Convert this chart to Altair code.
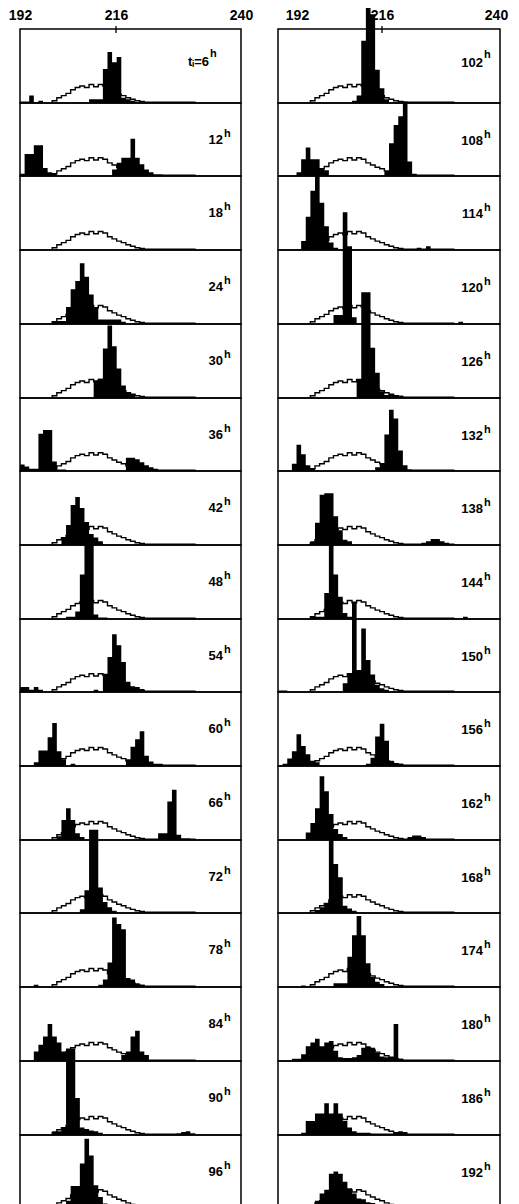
import altair as alt
import pandas as pd

FONT = "Liberation Sans"

LEFT_HOURS = [6, 12, 18, 24, 30, 36, 42, 48, 54, 60, 66, 72, 78, 84, 90, 96]
RIGHT_HOURS = [102, 108, 114, 120, 126, 132, 138, 144, 150, 156, 162, 168, 174, 180, 186, 192]

AXIS_VALUES = [192, 216, 240]

# reference (open) histogram, bins of width 1 starting at 199
OUTLINE_START = 199
OUTLINE = [3, 7, 10, 13, 18, 21, 23, 21, 25, 22, 25, 23, 18, 15, 12, 10, 7, 5, 3, 2,
           1, 1, 1, 1, 1, 1, 1, 1, 1, 1, 1]

# filled histograms: (first bin, heights) runs, height in % of panel height
H6 = [(192, [2, 2, 10, 1, 3]), (207, [5, 5, 5, 46, 69, 55, 62, 7, 5, 3, 1])]
H12 = [(192, [3, 30, 30, 42, 42, 11, 5, 3]), (212, [9, 18, 25, 25, 51, 25, 16, 9, 5, 2, 2, 1])]
H18 = []
H24 = [(199, [4, 4, 4, 23, 47, 58, 82, 64, 40, 22, 6, 6, 6, 6, 6, 3])]
H30 = [(208, [24, 26, 67, 98, 70, 40, 17, 8, 4])]
H36 = [(192, [9, 6, 3, 3, 51, 56, 56, 13, 2, 2]), (215, [18, 18, 16, 12, 8, 5, 3])]
H42 = [(201, [10, 27, 54, 65, 50, 31, 15, 10, 5])]
H48 = [(202, [3, 3, 10, 60, 100, 100, 6, 2, 2])]
H54 = [(192, [7, 7, 3, 7, 3]), (208, [3, 0, 25, 48, 79, 64, 41, 14, 8, 7, 4])]
H60 = [(195, [5, 21, 21, 39, 58, 20, 9, 0, 3]), (215, [9, 26, 36, 47, 14, 6, 3, 3])]
H66 = [(200, [5, 27, 43, 27, 9, 4]), (222, [9, 9, 52, 68, 7, 2, 2])]
H72 = [(205, [5, 31, 114, 114, 35, 15, 8, 3])]
H78 = [(195, [3]), (209, [3, 10, 33, 94, 85, 78, 12, 10, 5, 3])]
H84 = [(195, [13, 22, 33, 50, 33, 25, 13]), (214, [8, 13, 33, 41, 13, 8])]
H90 = [(199, [5, 5, 10, 117, 117, 50, 10, 8, 6, 5, 3]), (226, [2, 4, 5, 2])]
H96 = [(202, [10, 30, 30, 61, 95, 72, 31, 15, 6])]

H102 = [(208, [3, 10, 84, 130, 120, 45, 20, 5])]
H108 = [(196, [5, 23, 39, 23, 23, 11, 8]), (215, [7, 45, 70, 82, 102, 20, 3])]
H114 = [(197, [12, 45, 80, 100, 64, 32, 10, 3]), (222, [3, 0, 5])]
H120 = [(204, [12, 12, 151, 105, 9]), (231, [3])]
H126 = [(209, [25, 143, 143, 68, 34, 9, 4, 4, 4, 3])]
H132 = [(195, [10, 36, 23, 8, 3]), (213, [5, 10, 50, 84, 72, 28, 8, 2])]
H138 = [(199, [5, 30, 68, 70, 70, 39, 20, 7, 5]), (223, [3, 5, 8, 8, 5, 3])]
H144 = [(199, [3, 3, 3, 35, 100, 60, 30, 8, 3]), (232, [3])]
H150 = [(192, [2, 2]), (206, [12, 26, 124, 30, 87, 44, 24, 10, 5, 3])]
H156 = [(193, [3, 10, 20, 43, 27, 16, 7, 5]), (211, [3, 11, 40, 57, 34, 7, 4, 3])]
H162 = [(198, [10, 23, 43, 86, 66, 35, 15, 8, 4]), (220, [4, 6, 6, 4])]
H168 = [(200, [4, 8, 13, 100, 67, 49, 10, 6, 3])]
H174 = [(197, [2]), (204, [5, 5, 5, 41, 70, 96, 70, 32, 14, 7, 4])]
H180 = [(195, [3, 3, 9, 20, 25, 30, 20, 25, 27, 14, 5, 4, 4, 5, 8, 18, 20, 18, 11, 6, 5, 5, 50, 3])]
H186 = [(197, [3, 19, 19, 29, 29, 43, 29, 43, 29, 19, 10, 5, 3, 3, 3, 2, 2, 2, 2, 2, 4, 5, 4])]
H192 = [(199, [4, 10, 20, 25, 47, 50, 47, 36, 27, 20, 13, 12, 8, 7, 5, 4])]

PANELS = {
    6: H6, 12: H12, 18: H18, 24: H24, 30: H30, 36: H36, 42: H42, 48: H48,
    54: H54, 60: H60, 66: H66, 72: H72, 78: H78, 84: H84, 90: H90, 96: H96,
    102: H102, 108: H108, 114: H114, 120: H120, 126: H126, 132: H132, 138: H138,
    144: H144, 150: H150, 156: H156, 162: H162, 168: H168, 174: H174, 180: H180,
    186: H186, 192: H192,
}

# ---- tables built from the arrays above
rows = []
for hr, segs in PANELS.items():
    hts = {}
    for s, vals in segs:
        for j, v in enumerate(vals):
            hts[s + j] = v
    for b in range(192, 241):
        rows.append({"panel": hr, "x": b, "h": hts.get(b, 0)})
bars = pd.DataFrame(rows)

opts = [{"i": 0, "x": OUTLINE_START, "h": 0}]
for j, v in enumerate(OUTLINE):
    opts.append({"i": j + 1, "x": OUTLINE_START + j, "h": v})
opts.append({"i": len(OUTLINE) + 1, "x": OUTLINE_START + len(OUTLINE), "h": 0})
outline = pd.DataFrame(opts)

# per-row panel heights (pixels), averaging ~73.7
ROW_H = [74, 73, 74, 74, 74, 73, 74, 74, 73, 74, 74, 73, 74, 74, 74, 73]
XS = alt.Scale(domain=[192, 240], nice=False, zero=False)
YS = alt.Scale(domain=[0, 100], nice=False)


def panel(hr, width, height, ax_range, first, num_x, num_y, sup_y, label):
    area = alt.Chart(bars).transform_filter(alt.datum.panel == hr).mark_area(
        interpolate="step-after", color="black"
    ).encode(
        x=alt.X("x:Q", scale=XS, axis=None),
        y=alt.Y("h:Q", scale=YS, axis=None),
    )
    line = alt.Chart(outline).mark_line(
        interpolate="step-after", color="black", strokeWidth=1.4
    ).encode(
        x=alt.X("x:Q", scale=XS, axis=None),
        y=alt.Y("h:Q", scale=YS, axis=None),
        order="i:Q",
    )
    num = alt.Chart(pd.DataFrame({"t": [label]})).mark_text(
        align="right", baseline="alphabetic", font=FONT, fontSize=13, fontWeight="bold", color="black"
    ).encode(x=alt.value(num_x), y=alt.value(num_y), text="t:N")
    sup = alt.Chart(pd.DataFrame({"t": ["h"]})).mark_text(
        align="left", baseline="alphabetic", font=FONT, fontSize=11, fontWeight="bold", color="black"
    ).encode(x=alt.value(num_x + 1), y=alt.value(sup_y), text="t:N")
    layers = [area, line, num, sup]
    if first:
        ax = alt.Chart(pd.DataFrame({"v": [216]})).mark_rule(color="black", strokeWidth=1.3).encode(
            x=alt.X(
                "v:Q",
                title=None,
                scale=alt.Scale(domain=AXIS_VALUES, range=ax_range),
                axis=alt.Axis(
                    orient="top", values=AXIS_VALUES, ticks=False, domain=False, grid=False,
                    labelFont=FONT, labelFontSize=14, labelFontWeight="bold", labelColor="black",
                    labelPadding=10, labelFlush=False, labelBaseline="alphabetic",
                ),
            ),
            y=alt.value(-3),
            y2=alt.value(4),
        )
        layers.append(ax)
    ch = alt.layer(*layers).properties(width=width, height=height)
    if first:
        ch = ch.resolve_scale(x="independent")
    return ch


left_panels = []
for k, hr in enumerate(LEFT_HOURS):
    if k == 0:
        left_panels.append(panel(hr, 221, ROW_H[k], [0, 96, 221], True, 189, 37, 28, "tᵢ=6"))
    else:
        left_panels.append(panel(hr, 221, ROW_H[k], None, False, 203, 41, 34, str(hr)))

right_panels = []
for k, hr in enumerate(RIGHT_HOURS):
    if k == 0:
        right_panels.append(panel(hr, 222, ROW_H[k], [19, 104, 218], True, 205, 38, 29, str(hr)))
    else:
        right_panels.append(panel(hr, 222, ROW_H[k], None, False, 205, 42, 35, str(hr)))

cells = []
for lp, rp in zip(left_panels, right_panels):
    cells.append(lp)
    cells.append(rp)

chart = alt.concat(
    *cells, columns=2, spacing={"row": 0, "column": 37}, bounds="flush"
).properties(
    padding={"left": -1, "top": -2, "right": 0, "bottom": 0},
    background="white",
).configure_view(stroke="black", strokeWidth=1.5)

chart.save("out.html", embed_options={"renderer": "svg", "actions": False})
